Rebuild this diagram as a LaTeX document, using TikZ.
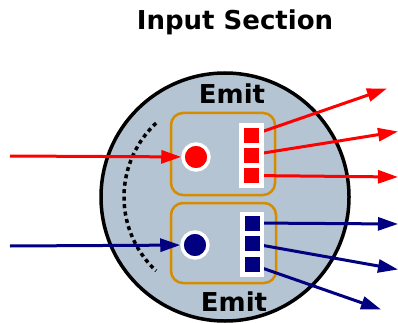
\documentclass[tikz,border=0pt]{standalone}
\usepackage{fontspec}
\setmainfont{DejaVu Sans}
\usetikzlibrary{arrows.meta}
\definecolor{plate}{RGB}{180,196,210}
\definecolor{boxor}{RGB}{214,140,0}
\definecolor{navy}{RGB}{0,0,128}
\pgfdeclarelayer{bg}
\pgfsetlayers{bg,main}
\begin{document}
\begin{tikzpicture}[x=1pt,y=-1pt,
  sq/.style={minimum size=15pt, inner sep=0pt, outer sep=0pt},
  port/.style={circle, draw=white, line width=3.5pt, minimum size=26pt, inner sep=0pt},
  arr/.style={line width=3pt, -{Triangle[length=20pt,width=13pt]}},
  grp/.style={draw=boxor, line width=2.5pt, rounded corners=12pt},
  lbl/.style={font=\fontsize{26}{30}\selectfont\bfseries}]
\useasboundingbox (0,0) rectangle (398,323);
% title and labels
\node[lbl] (title) at (235,22) {Input Section};
% squares (main layer)
\fill[white] (239,123) rectangle (264,188);
\node[sq, fill=red] (r1) at (251,135.5) {};
\node[sq, fill=red] (r2) at (251,155) {};
\node[sq, fill=red] (r3) at (251,175.5) {};
\fill[white] (240,212) rectangle (264,277);
\node[sq, fill=navy] (b1) at (252,223) {};
\node[sq, fill=navy] (b2) at (252,243.5) {};
\node[sq, fill=navy] (b3) at (252,264.5) {};
\node[port, fill=red] (rc) at (196,157) {};
\node[port, fill=navy] (bc) at (195,245) {};
\node[lbl] (emit1) at (232,93.5) {Emit};
\node[lbl] (emit2) at (234,301.5) {Emit};
% free ends
\coordinate (inr) at (10,156);
\coordinate (inb) at (10,246);
\coordinate (or1) at (387,88.5);
\coordinate (or2) at (398,131.5);
\coordinate (or3) at (398,177);
\coordinate (ob1) at (398,224);
\coordinate (ob2) at (398,269.5);
\coordinate (ob3) at (381,309.5);
\begin{pgfonlayer}{bg}
\draw[fill=plate, line width=3.5pt] (225,197) circle (124pt);
\draw[grp] (171,113) rectangle (275,195);
\draw[grp] (171,203) rectangle (276,283);
\draw[line width=3.5pt, dash pattern=on 4pt off 3.5pt] (225,197) ++(227:101) arc[start angle=227, end angle=133, radius=101];
\draw[arr, red] (inr) -- (rc);
\draw[arr, navy] (inb) -- (bc);
\draw[arr, red] (r1.center) -- (or1);
\draw[arr, red] (r2.center) -- (or2);
\draw[arr, red] (r3.center) -- (or3);
\draw[arr, navy] (b1.center) -- (ob1);
\draw[arr, navy] (b2.center) -- (ob2);
\draw[arr, navy] (b3.center) -- (ob3);
\end{pgfonlayer}
\end{tikzpicture}
\end{document}
